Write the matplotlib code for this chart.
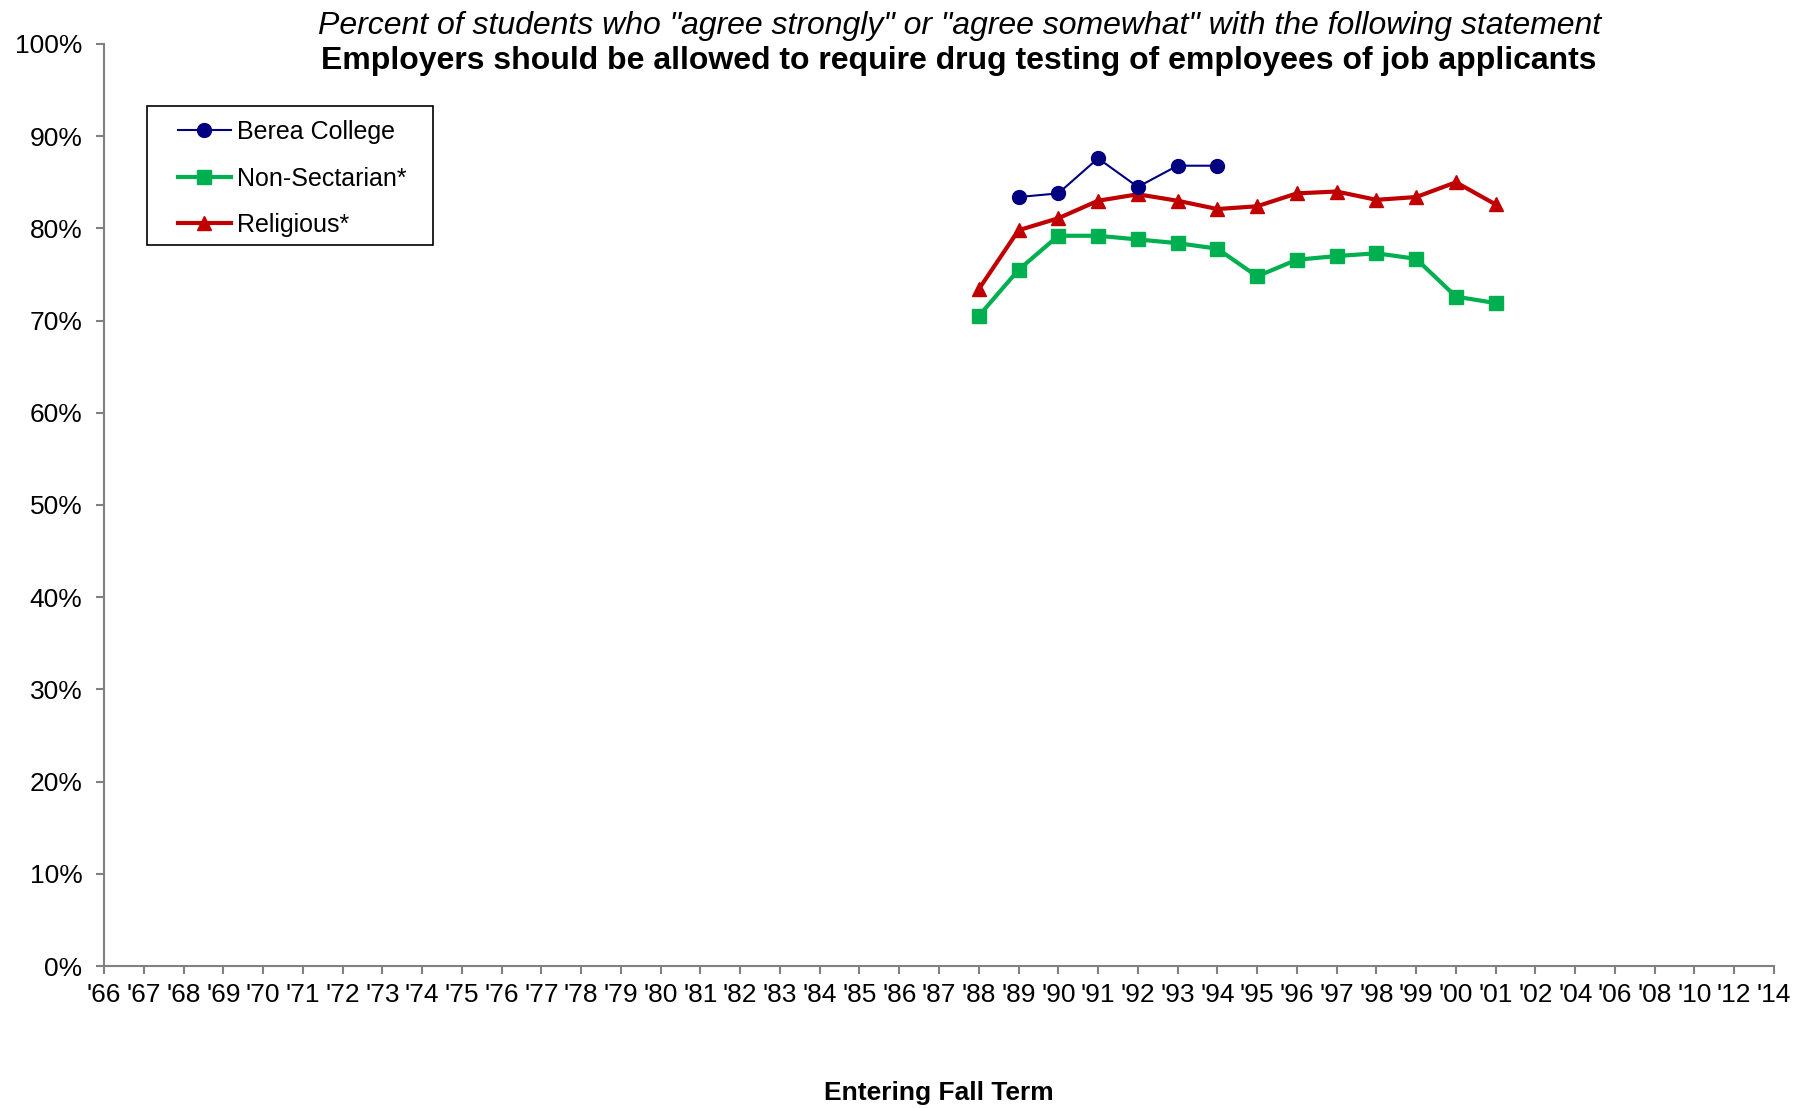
import matplotlib
matplotlib.use("Agg")
import matplotlib.pyplot as plt
from matplotlib.patches import Rectangle
import numpy as np

plt.rcParams['font.family'] = ['Liberation Sans', 'DejaVu Sans']

tick_labels = ["'66", "'67", "'68", "'69", "'70", "'71", "'72", "'73", "'74", "'75", "'76", "'77",
               "'78", "'79", "'80", "'81", "'82", "'83", "'84", "'85", "'86", "'87", "'88", "'89",
               "'90", "'91", "'92", "'93", "'94", "'95", "'96", "'97", "'98", "'99", "'00", "'01",
               "'02", "'04", "'06", "'08", "'10", "'12", "'14"]

berea_years = ["'89", "'90", "'91", "'92", "'93", "'94"]
berea = [83.4, 83.8, 87.6, 84.5, 86.8, 86.8]

nonsec_years = ["'88", "'89", "'90", "'91", "'92", "'93", "'94", "'95", "'96", "'97", "'98", "'99", "'00", "'01"]
nonsec = [70.5, 75.5, 79.2, 79.2, 78.8, 78.4, 77.8, 74.8, 76.6, 77.0, 77.3, 76.7, 72.6, 71.9]

relig_years = nonsec_years
relig = [73.4, 79.8, 81.1, 83.0, 83.7, 83.0, 82.1, 82.4, 83.8, 84.0, 83.1, 83.4, 85.0, 82.6]

W, H = 1812, 1108
fig = plt.figure(figsize=(W / 100, H / 100), dpi=100)
ax = fig.add_axes([104 / W, 1 - 966 / H, (1774 - 104) / W, (966 - 44) / H])

idx = {t: i for i, t in enumerate(tick_labels)}
ax.plot([idx[y] for y in berea_years], berea, color='#000080', lw=1.5, marker='o', ms=10,
        label='Berea College', zorder=4)
ax.plot([idx[y] for y in nonsec_years], nonsec, color='#00B050', lw=3, marker='s', ms=10,
        label='Non-Sectarian*', zorder=3)
ax.plot([idx[y] for y in relig_years], relig, color='#C00000', lw=3, marker='^', ms=10.5,
        label='Religious*', zorder=3)

ax.set_xlim(0, len(tick_labels) - 1)
ax.set_ylim(0, 100)
ax.set_xticks(range(len(tick_labels)))
ax.set_xticklabels(tick_labels, fontsize=19)
ax.set_yticks(np.arange(0, 101, 10))
ax.set_yticklabels([f"{v}%" for v in range(0, 101, 10)], fontsize=19)

for s in ['top', 'right']:
    ax.spines[s].set_visible(False)
for s in ['left', 'bottom']:
    ax.spines[s].set_color('#808080')
    ax.spines[s].set_linewidth(1.5)
ax.tick_params(axis='both', direction='out', length=5.5, width=1.5, color='#808080')
ax.tick_params(axis='x', pad=7)
ax.tick_params(axis='y', pad=10)

fig.text(960 / W, 1 - 26 / H, 'Percent of students who "agree strongly" or "agree somewhat" with the following statement',
         ha='center', va='center', fontsize=23, style='italic')
fig.text(959 / W, 1 - 61 / H, 'Employers should be allowed to require drug testing of employees of job applicants',
         ha='center', va='center', fontsize=23, weight='bold')
fig.text(939 / W, 1 - 1093 / H, 'Entering Fall Term', ha='center', va='center', fontsize=19, weight='bold')

fig.patches.append(Rectangle((147 / W, 1 - 245 / H), (433 - 147) / W, (245 - 106) / H,
                             transform=fig.transFigure, fill=False, edgecolor='black', lw=1.2))
leg = fig.legend(*ax.get_legend_handles_labels(), loc='upper left',
                 bbox_to_anchor=(178 / W, 1 - 120 / H),
                 fontsize=18, frameon=False, handlelength=2.1,
                 borderpad=0, labelspacing=0.9, handletextpad=0.25, borderaxespad=0)

fig.savefig('out.png', dpi=100)
